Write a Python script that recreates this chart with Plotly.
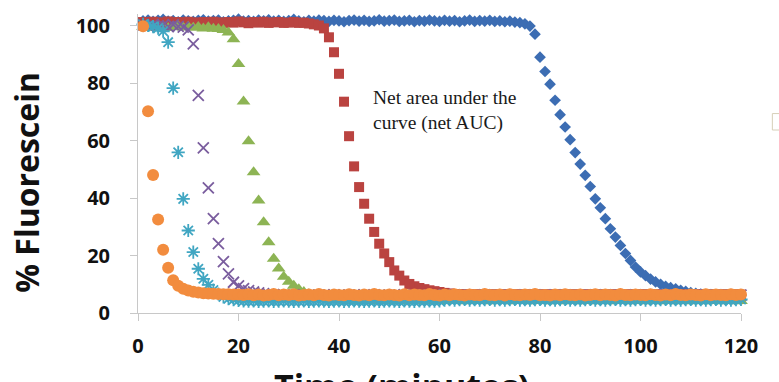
import plotly.graph_objects as go

# ---------------- data ----------------
time_min = list(range(1, 121))
x_ticks = [0, 20, 40, 60, 80, 100, 120]
y_ticks = [0, 20, 40, 60, 80, 100]

blue_diamond = [
    101.6, 101.9, 101.4, 101.8, 102.1, 101.5, 101.7, 101.3, 101.9, 101.6,
    101.4, 101.8, 102.0, 101.5, 101.7, 101.9, 101.3, 101.6, 101.8, 102.2,
    101.5, 101.7, 101.4, 101.9, 101.6, 102.0, 101.5, 101.8, 101.4, 101.7,
    102.1, 101.6, 101.3, 101.8, 101.5, 101.9, 101.7, 101.4, 101.8, 101.6,
    101.3, 101.7, 101.9, 101.5, 101.8, 101.4, 101.6, 102.0, 101.5, 101.7,
    101.9, 101.4, 101.6, 101.8, 101.3, 101.7, 101.5, 101.9, 101.6, 101.4,
    101.8, 101.5, 101.7, 101.3, 101.6, 101.9, 101.4, 101.7, 101.5, 101.8,
    101.4, 101.6, 101.3, 101.5, 101.2, 101.0, 100.6, 99.8, 97.0, 89.0,
    84.0, 79.6, 74.0, 69.0, 64.7, 60.3, 55.8, 51.8, 47.9, 44.0,
    39.7, 36.6, 32.8, 29.3, 26.4, 23.5, 20.7, 18.3, 16.0, 14.3,
    13.0, 11.8, 10.8, 10.0, 9.3, 8.8, 8.4, 7.9, 7.5, 7.1,
    6.8, 6.6, 6.4, 6.3, 6.3, 6.2, 6.3, 6.2, 6.3, 6.2,
]

red_square = [
    101.2, 101.0, 101.3, 100.9, 101.1, 101.4, 101.0, 101.2, 100.8, 101.3,
    101.1, 100.9, 101.2, 101.0, 101.3, 101.1, 100.9, 101.2, 101.0, 101.4,
    101.1, 100.8, 101.2, 101.0, 101.3, 100.9, 101.1, 101.2, 100.9, 101.0,
    101.2, 100.9, 101.0, 100.7, 100.4, 100.0, 99.0, 95.9, 90.7, 83.2,
    73.5, 61.5, 51.0, 43.8, 38.0, 32.8, 28.2, 24.1, 20.7, 17.7,
    14.8, 13.0, 11.3, 10.1, 9.3, 8.7, 8.3, 7.9, 7.6, 7.3,
    7.0, 6.8, 6.6, 6.5, 6.5, 6.4, 6.5, 6.4, 6.5, 6.4,
    6.5, 6.4, 6.5, 6.4, 6.5, 6.4, 6.5, 6.4, 6.5, 6.4,
    6.5, 6.4, 6.5, 6.4, 6.5, 6.4, 6.5, 6.4, 6.5, 6.4,
    6.5, 6.4, 6.5, 6.4, 6.5, 6.4, 6.5, 6.4, 6.5, 6.4,
    6.5, 6.4, 6.5, 6.4, 6.5, 6.4, 6.5, 6.4, 6.5, 6.4,
    6.5, 6.4, 6.5, 6.4, 6.5, 6.4, 6.5, 6.4, 6.5, 6.4,
]

green_triangle = [
    99.6, 99.2, 99.8, 99.4, 99.7, 99.1, 99.5, 99.8, 99.3, 99.6,
    99.2, 99.5, 99.0, 99.4, 98.9, 98.8, 98.4, 97.6, 95.2, 86.6,
    73.6, 59.7, 49.0, 39.1, 31.6, 24.6, 18.9, 15.5, 12.6, 10.9,
    9.5, 8.3, 7.3, 6.5, 5.8, 5.3, 4.9, 4.6, 4.5, 4.4,
    4.3, 4.2, 4.4, 4.3, 4.2, 4.3, 4.4, 4.2, 4.3, 4.3,
    4.2, 4.4, 4.3, 4.2, 4.3, 4.3, 4.4, 4.2, 4.3, 4.2,
    4.3, 4.2, 4.3, 4.2, 4.1, 4.3, 4.2, 4.2, 4.3, 4.1,
    4.2, 4.3, 4.2, 4.1, 4.2, 4.3, 4.2, 4.1, 4.2, 4.2,
    4.3, 4.1, 4.2, 4.2, 4.1, 4.3, 4.2, 4.1, 4.2, 4.2,
    4.1, 4.3, 4.2, 4.1, 4.2, 4.2, 4.3, 4.1, 4.2, 4.2,
    4.1, 4.2, 4.3, 4.1, 4.2, 4.2, 4.1, 4.3, 4.2, 4.1,
    4.2, 4.2, 4.1, 4.3, 4.2, 4.1, 4.2, 4.2, 4.1, 4.2,
]

purple_x = [
    100.2, 99.8, 100.4, 99.9, 100.1, 99.6, 100.3, 99.7, 99.4, 98.5,
    93.6, 75.7, 57.4, 43.5, 32.8, 24.1, 17.9, 13.6, 10.7, 9.4,
    8.5, 7.8, 7.3, 7.0, 6.7, 6.5, 6.4, 6.3, 6.3, 6.2,
    6.3, 6.2, 6.3, 6.2, 6.3, 6.2, 6.3, 6.2, 6.3, 6.2,
    6.3, 6.2, 6.3, 6.2, 6.3, 6.2, 6.3, 6.2, 6.3, 6.2,
    6.3, 6.2, 6.3, 6.2, 6.3, 6.2, 6.3, 6.2, 6.3, 6.2,
    6.3, 6.2, 6.3, 6.2, 6.3, 6.2, 6.3, 6.2, 6.3, 6.2,
    6.3, 6.2, 6.3, 6.2, 6.3, 6.2, 6.3, 6.2, 6.3, 6.2,
    6.3, 6.2, 6.3, 6.2, 6.3, 6.2, 6.3, 6.2, 6.3, 6.2,
    6.3, 6.2, 6.3, 6.2, 6.3, 6.2, 6.3, 6.2, 6.3, 6.2,
    6.3, 6.2, 6.3, 6.2, 6.3, 6.2, 6.3, 6.2, 6.3, 6.2,
    6.3, 6.2, 6.3, 6.2, 6.3, 6.2, 6.3, 6.2, 6.3, 6.2,
]

cyan_star = [
    100.4, 100.0, 99.6, 99.1, 98.0, 94.2, 78.2, 55.9, 39.7, 28.7,
    21.2, 15.4, 11.9, 9.8, 8.0, 6.6, 5.6, 5.0, 4.6, 4.4,
    4.2, 4.1, 4.2, 4.0, 4.1, 4.2, 4.0, 4.1, 4.2, 4.1,
    4.0, 4.1, 4.2, 4.0, 4.1, 4.2, 4.1, 4.0, 4.1, 4.2,
    4.0, 4.1, 4.2, 4.1, 4.0, 4.1, 4.2, 4.0, 4.1, 4.2,
    4.1, 4.0, 4.2, 4.1, 4.0, 4.2, 4.1, 4.2, 4.1, 4.2,
    4.5, 4.6, 4.5, 4.6, 4.7, 4.5, 4.6, 4.5, 4.6, 4.7,
    4.5, 4.6, 4.5, 4.6, 4.7, 4.5, 4.6, 4.5, 4.6, 4.7,
    4.5, 4.6, 4.5, 4.6, 4.7, 4.5, 4.6, 4.5, 4.6, 4.7,
    4.5, 4.6, 4.5, 4.6, 4.7, 4.5, 4.6, 4.5, 4.6, 4.7,
    4.5, 4.6, 4.5, 4.6, 4.7, 4.5, 4.6, 4.5, 4.6, 4.7,
    4.5, 4.6, 4.5, 4.6, 4.7, 4.5, 4.6, 4.5, 4.6, 4.7,
]

orange_circle = [
    99.7, 70.2, 48.0, 32.5, 22.0, 15.7, 11.4, 9.5, 8.4, 7.8,
    7.4, 7.1, 6.9, 6.8, 6.7, 6.6, 6.5, 6.5, 6.4, 6.4,
    6.3, 6.5, 6.2, 6.4, 6.1, 6.3, 6.6, 6.2, 6.4, 6.3,
    6.5, 6.1, 6.3, 6.4, 6.2, 6.6, 6.3, 6.1, 6.4, 6.3,
    6.2, 6.5, 6.3, 6.1, 6.4, 6.2, 6.6, 6.3, 6.2, 6.4,
    6.3, 6.1, 6.5, 6.2, 6.4, 6.3, 6.2, 6.6, 6.3, 6.1,
    6.4, 6.2, 6.5, 6.3, 6.1, 6.4, 6.3, 6.2, 6.6, 6.3,
    6.2, 6.4, 6.1, 6.5, 6.3, 6.2, 6.4, 6.3, 6.6, 6.2,
    6.3, 6.1, 6.4, 6.2, 6.5, 6.3, 6.2, 6.4, 6.1, 6.3,
    6.5, 6.2, 6.4, 6.3, 6.1, 6.6, 6.3, 6.2, 6.4, 6.3,
    6.2, 6.5, 6.3, 6.1, 6.4, 6.2, 6.6, 6.3, 6.2, 6.4,
    6.3, 6.1, 6.5, 6.2, 6.4, 6.3, 6.2, 6.5, 6.3, 6.4,
]

for s in (blue_diamond, red_square, green_triangle, purple_x, cyan_star, orange_circle):
    assert len(s) == len(time_min)

# ---------------- figure ----------------
fig = go.Figure()

def add(vals, symbol, color, size, open_marker=False, lw=0):
    marker = dict(symbol=symbol, size=size, color=color)
    if open_marker:
        marker["line"] = dict(color=color, width=lw)
    else:
        marker["line"] = dict(width=0)
    fig.add_trace(go.Scatter(x=time_min, y=vals, mode="markers", marker=marker,
                             cliponaxis=False, hoverinfo="x+y"))

add(blue_diamond, "diamond", "#3C6DB3", 9)
add(red_square, "square", "#BA4340", 10)
add(green_triangle, "triangle-up", "#8DB454", 12)
add(purple_x, "x-thin-open", "#7A5D9E", 11, True, 1.8)
add(cyan_star, "asterisk-open", "#40A6C2", 11, True, 1.8)
add(orange_circle, "circle", "#F28C3E", 12)

axis_common = dict(
    showline=True, linecolor="#C8C8C8", linewidth=1,
    ticks="outside", ticklen=7, tickcolor="#C8C8C8", tickwidth=1,
    showgrid=False, zeroline=False,
    tickfont=dict(family="Open Sans", size=20, color="#111111", weight="bold"),
)

fig.update_layout(
    width=779, height=382,
    margin=dict(l=138, r=38, t=12, b=69, pad=0),
    paper_bgcolor="white", plot_bgcolor="white",
    showlegend=False,
    xaxis=dict(range=[0, 120], tickvals=x_ticks, ticklabelstandoff=8, **axis_common),
    yaxis=dict(range=[0, 104], tickvals=y_ticks, ticklabelstandoff=16, **axis_common),
    annotations=[
        dict(text="% Fluorescein", xref="paper", yref="paper", x=-0.185, y=0.437,
             textangle=-90, showarrow=False, xanchor="center", yanchor="middle",
             font=dict(family="Open Sans", size=32, color="#111111", weight="bold")),
        dict(text="Time (minutes)", xref="paper", yref="paper", x=0.437, y=-0.16,
             showarrow=False, xanchor="center", yanchor="top",
             font=dict(family="Open Sans", size=34, color="#111111", weight="bold")),
        dict(text="Net area under the<br>curve (net AUC)", xref="paper", yref="paper",
             x=0.386, y=0.763, showarrow=False, xanchor="left", yanchor="top", align="left",
             font=dict(family="Liberation Serif", size=19.5, color="#1a1a1a")),
    ],
    shapes=[
        dict(type="rect", xref="paper", yref="paper", x0=1.052, x1=1.07, y0=0.612, y1=0.667,
             line=dict(color="#D6CFB8", width=1), fillcolor="rgba(0,0,0,0)"),
    ],
)

fig.write_html("out.html")
